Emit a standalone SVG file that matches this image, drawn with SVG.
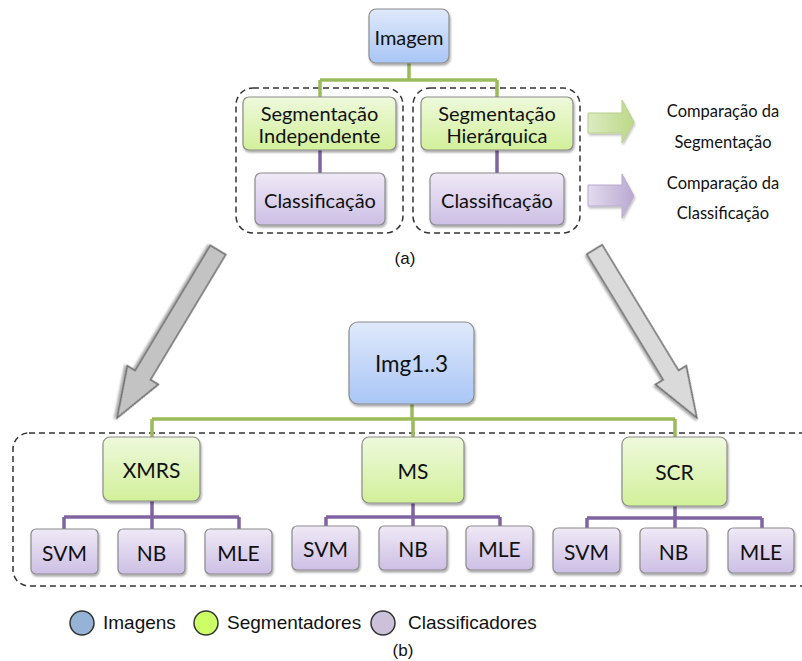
<svg xmlns="http://www.w3.org/2000/svg" width="802" height="661" viewBox="0 0 802 661">
  <defs>
    <linearGradient id="gBlue" x1="0" y1="0" x2="0" y2="1">
      <stop offset="0" stop-color="#dfe9fb"/>
      <stop offset="1" stop-color="#a9c6f6"/>
    </linearGradient>
    <linearGradient id="gGreen" x1="0" y1="0" x2="0" y2="1">
      <stop offset="0" stop-color="#eef9dc"/>
      <stop offset="1" stop-color="#d2f09a"/>
    </linearGradient>
    <linearGradient id="gPurple" x1="0" y1="0" x2="0" y2="1">
      <stop offset="0" stop-color="#efe9f6"/>
      <stop offset="1" stop-color="#cdbfe5"/>
    </linearGradient>
    <linearGradient id="gArrowGreen" x1="0" y1="0" x2="1" y2="0">
      <stop offset="0" stop-color="#dcebc2"/>
      <stop offset="1" stop-color="#bcd886"/>
    </linearGradient>
    <linearGradient id="gArrowPurple" x1="0" y1="0" x2="1" y2="0">
      <stop offset="0" stop-color="#e3dcee"/>
      <stop offset="1" stop-color="#b9a8d2"/>
    </linearGradient>
    <filter id="shadow" x="-20%" y="-20%" width="140%" height="150%">
      <feDropShadow dx="1" dy="2" stdDeviation="1.2" flood-color="#000" flood-opacity="0.35"/>
    </filter>
    <filter id="soft" x="-20%" y="-30%" width="140%" height="160%">
      <feGaussianBlur in="SourceGraphic" stdDeviation="0.4" result="b"/>
      <feDropShadow in="b" dx="1" dy="2" stdDeviation="1.2" flood-color="#000" flood-opacity="0.25"/>
    </filter>
  </defs>
  <style>
    .box { stroke: #8c8c8c; stroke-width: 1.2; filter: url(#shadow); }
    .blue { fill: url(#gBlue); }
    .green { fill: url(#gGreen); }
    .purple { fill: url(#gPurple); }
    .lbl { font-family: Lato, "Liberation Sans", sans-serif; fill: #111; text-anchor: middle; dominant-baseline: central; }
    .lg { font-size: 20px; }
    .md { font-size: 21px; }
    .xl { font-size: 22.5px; }
    .side { font-family: Lato, "Liberation Sans", sans-serif; font-size: 16.5px; fill: #111; text-anchor: middle; dominant-baseline: central; }
    .ar { font-family: "Liberation Sans", Arial, sans-serif; fill: #111; }
    .dash { fill: none; stroke: #333; stroke-width: 1.5; stroke-dasharray: 6 4; }
    .cg { fill: none; stroke: #9bbb59; stroke-width: 3.5; }
    .cp { fill: none; stroke: #8064a2; stroke-width: 3.5; }
    .bigarrow { stroke: #6e6e6e; stroke-width: 1.6; filter: url(#shadow); }
    .dot { stroke: #333; stroke-width: 1.5; }
  </style>

  <!-- dashed grouping frames -->
  <rect class="dash" x="236" y="88" width="167" height="145" rx="17"/>
  <rect class="dash" x="413" y="88" width="167" height="145" rx="17"/>
  <rect class="dash" x="13" y="433" width="805" height="153" rx="16"/>

  <!-- connectors -->
  <g id="connectors">
    <path class="cg" d="M409 63 V80 M320 80 H497 M320 80 V97 M497 80 V97"/>
    <path class="cp" d="M320 150 V173 M497 150 V173"/>
    <path class="cg" d="M412 404 V419 M152 419 H675 M152 419 V437 M413 419 V437 M675 419 V437"/>
    <path class="cp" d="M152 501 V517 M64 517 H239 M64 517 V529 M152 517 V529 M239 517 V529"/>
    <path class="cp" d="M413 503 V517 M326 517 H500 M326 517 V526 M413 517 V526 M500 517 V526"/>
    <path class="cp" d="M675 506 V518 M587 518 H762 M587 518 V528 M675 518 V528 M762 518 V528"/>
  </g>

  <!-- part (a) -->
  <g id="imagem">
    <rect class="box blue" x="369" y="9" width="80" height="54" rx="7"/>
    <text class="lbl lg" x="409" y="37">Imagem</text>
  </g>
  <g id="seg-independente">
    <rect class="box green" x="243" y="97" width="153" height="53" rx="6"/>
    <text class="lbl lg" x="319.5" y="113">Segmentação</text>
    <text class="lbl lg" x="319.5" y="135">Independente</text>
  </g>
  <g id="seg-hierarquica">
    <rect class="box green" x="421" y="97" width="152" height="53" rx="6"/>
    <text class="lbl lg" x="497" y="113">Segmentação</text>
    <text class="lbl lg" x="497" y="135">Hierárquica</text>
  </g>
  <g id="class-a1">
    <rect class="box purple" x="255" y="173" width="130" height="52" rx="6"/>
    <text class="lbl lg" x="320" y="200">Classificação</text>
  </g>
  <g id="class-a2">
    <rect class="box purple" x="430" y="173" width="134" height="52" rx="6"/>
    <text class="lbl lg" x="497" y="200">Classificação</text>
  </g>
  <text class="ar" x="405" y="264" font-size="17" text-anchor="middle">(a)</text>

  <!-- comparison arrows -->
  <g id="cmp-seg">
    <polygon points="588,113 622,113 622,100 634,122 622,143 622,133 588,133" fill="url(#gArrowGreen)" stroke="#b7cf8c" stroke-width="1" filter="url(#soft)"/>
    <text class="side" x="723" y="111">Comparação da</text>
    <text class="side" x="723" y="142">Segmentação</text>
  </g>
  <g id="cmp-class">
    <polygon points="588,185 622,185 622,174 634,196 622,218 622,206 588,206" fill="url(#gArrowPurple)" stroke="#b8aacf" stroke-width="1" filter="url(#soft)"/>
    <text class="side" x="723" y="183">Comparação da</text>
    <text class="side" x="723" y="213">Classificação</text>
  </g>

  <!-- large transition arrows -->
  <polygon class="bigarrow" fill="#c3c3c3" transform="translate(218 250) rotate(121)" points="0,-9 146,-9 146,-18 196,0 146,18 146,9 0,9"/>
  <polygon class="bigarrow" fill="#dadada" transform="translate(594.5 249.5) rotate(58.7)" points="0,-9 147,-9 147,-18 197,0 147,18 147,9 0,9"/>

  <!-- part (b) -->
  <g id="img13">
    <rect class="box blue" x="349" y="322" width="125" height="82" rx="9"/>
    <text class="lbl xl" x="411.5" y="363">Img1..3</text>
  </g>
  <g id="xmrs">
    <rect class="box green" x="103" y="437" width="97" height="64" rx="7"/>
    <text class="lbl md" x="151.5" y="469">XMRS</text>
  </g>
  <g id="ms">
    <rect class="box green" x="362" y="437" width="102" height="66" rx="7"/>
    <text class="lbl md" x="413" y="470">MS</text>
  </g>
  <g id="scr">
    <rect class="box green" x="622" y="437" width="105" height="69" rx="7"/>
    <text class="lbl md" x="674.5" y="471">SCR</text>
  </g>

  <g id="xmrs-svm"><rect class="box purple" x="31" y="529" width="67" height="45" rx="5"/><text class="lbl md" x="64.5" y="552">SVM</text></g>
  <g id="xmrs-nb"><rect class="box purple" x="118" y="529" width="67" height="45" rx="5"/><text class="lbl md" x="151.5" y="552">NB</text></g>
  <g id="xmrs-mle"><rect class="box purple" x="205" y="529" width="67" height="45" rx="5"/><text class="lbl md" x="238.5" y="552">MLE</text></g>

  <g id="ms-svm"><rect class="box purple" x="292" y="526" width="67" height="44" rx="5"/><text class="lbl md" x="325.5" y="548">SVM</text></g>
  <g id="ms-nb"><rect class="box purple" x="379" y="526" width="68" height="44" rx="5"/><text class="lbl md" x="413" y="548">NB</text></g>
  <g id="ms-mle"><rect class="box purple" x="466" y="526" width="67" height="44" rx="5"/><text class="lbl md" x="499.5" y="548">MLE</text></g>

  <g id="scr-svm"><rect class="box purple" x="553" y="528" width="67" height="45" rx="5"/><text class="lbl md" x="586.5" y="551">SVM</text></g>
  <g id="scr-nb"><rect class="box purple" x="640" y="528" width="67" height="45" rx="5"/><text class="lbl md" x="673.5" y="551">NB</text></g>
  <g id="scr-mle"><rect class="box purple" x="728" y="528" width="66" height="45" rx="5"/><text class="lbl md" x="761" y="551">MLE</text></g>

  <!-- legend -->
  <g id="legend">
    <circle class="dot" cx="82" cy="623" r="12" fill="#95b3d7"/>
    <text class="ar" x="103" y="629" font-size="19">Imagens</text>
    <circle class="dot" cx="206" cy="623" r="12" fill="#ccff66"/>
    <text class="ar" x="227" y="629" font-size="19">Segmentadores</text>
    <circle class="dot" cx="383" cy="623" r="12" fill="#ccc0da"/>
    <text class="ar" x="408" y="629" font-size="19">Classificadores</text>
  </g>
  <text class="ar" x="403" y="656" font-size="17" text-anchor="middle">(b)</text>
</svg>
